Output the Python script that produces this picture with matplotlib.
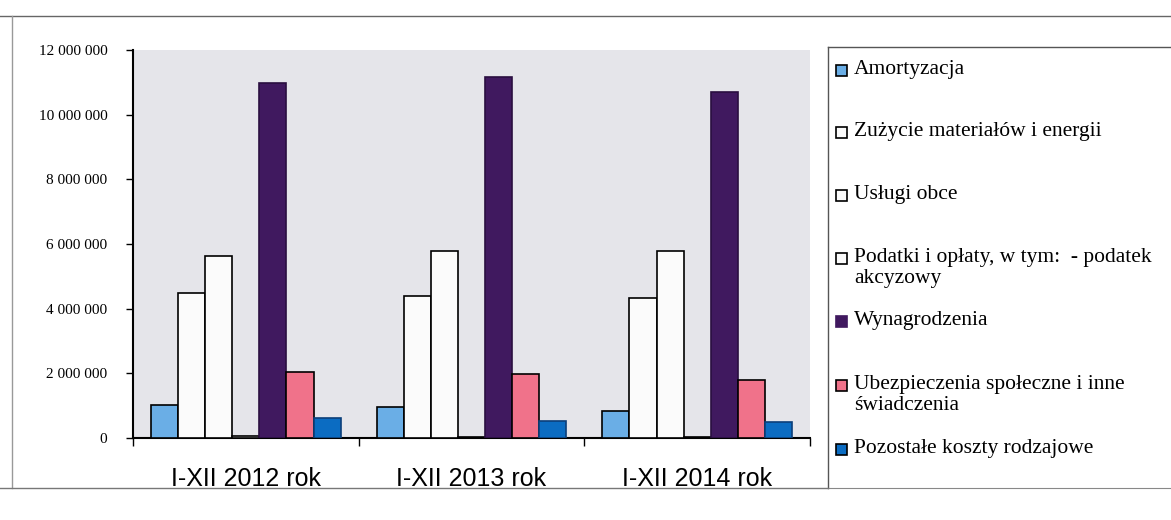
import matplotlib
matplotlib.use("Agg")
import matplotlib.pyplot as plt
from matplotlib.patches import Rectangle
from matplotlib.lines import Line2D
from matplotlib.ticker import FuncFormatter
import numpy as np

categories = ["I-XII 2012 rok", "I-XII 2013 rok", "I-XII 2014 rok"]
series_names = [
    "Amortyzacja",
    "Zużycie materiałów i energii",
    "Usługi obce",
    "Podatki i opłaty, w tym:  - podatek\nakcyzowy",
    "Wynagrodzenia",
    "Ubezpieczenia społeczne i inne\nświadczenia",
    "Pozostałe koszty rodzajowe",
]
amortyzacja = [1030000, 960000, 840000]
zuzycie = [4470000, 4400000, 4340000]
uslugi = [5640000, 5780000, 5770000]
podatki = [50000, 30000, 25000]
wynagrodzenia = [10980000, 11160000, 10700000]
ubezpieczenia = [2050000, 1980000, 1800000]
pozostale = [620000, 520000, 510000]
series_values = [amortyzacja, zuzycie, uslugi, podatki, wynagrodzenia, ubezpieczenia, pozostale]
y_ticks = [0, 2000000, 4000000, 6000000, 8000000, 10000000, 12000000]

colors = ["#6aaee6", "#fbfbfb", "#fbfbfb", "#fbfbfb", "#40195f", "#f0728a", "#0b6cc2"]
edges = ["#000000"] * 7
edges[4] = "#2a0f40"
edges[6] = "#0b3f7a"

fig = plt.figure(figsize=(11.71, 5.20), dpi=100)
fig.patch.set_facecolor("white")
ax = fig.add_axes([133/1171, 1-438/520, (810-133)/1171, (438-50)/520])
ax.set_facecolor("#e5e5ea")

x = np.arange(len(categories))
w = 0.12
n = len(series_values)
for i, (vals, c, ec) in enumerate(zip(series_values, colors, edges)):
    ax.bar(x + (i - (n-1)/2) * w, vals, width=w, color=c, edgecolor=ec, linewidth=1.2, zorder=3)

ax.set_xlim(-0.5, 2.5)
ax.set_ylim(0, 12000000)
ax.set_yticks(y_ticks)
ax.yaxis.set_major_formatter(FuncFormatter(lambda v, p: f"{int(v):,}".replace(",", " ")))
for lab in ax.get_yticklabels():
    lab.set_family("Liberation Serif")
    lab.set_fontsize(11)
ax.tick_params(axis="y", direction="out", length=5, width=1, pad=13.5)
ax.set_xticks(x)
ax.set_xticklabels(categories, family="Liberation Sans", fontsize=18)
ax.tick_params(axis="x", length=0, pad=21)
ax.set_xticks([-0.5, 0.5, 1.5, 2.5], minor=True)
ax.tick_params(axis="x", which="minor", direction="out", length=6, width=1)
for s in ["top", "right"]:
    ax.spines[s].set_visible(False)
ax.spines["left"].set_linewidth(1.5)
ax.spines["bottom"].set_linewidth(1.5)

# legend box (manual)
W, H = 1171, 520
fig.add_artist(Line2D([828/W, 828/W], [1-47/H, 1-488/H], color="#555555", lw=1))
fig.add_artist(Line2D([828/W, 1.0], [1-47/H, 1-47/H], color="#555555", lw=1))
fig.add_artist(Line2D([828/W, 1.0], [1-488/H, 1-488/H], color="#888888", lw=0.8))
ys = [70, 132, 195, 258, 321, 385, 449]
for name, c, ec, yy in zip(series_names, colors, edges, ys):
    fig.add_artist(Rectangle((836/W, 1-(yy+6)/H), 11/W, 11/H, facecolor=c,
                             edgecolor="#000000" if c != "#40195f" else c, lw=1.2,
                             transform=fig.transFigure))
    fig.text(854/W, 1-(yy-10)/H, name, family="Liberation Serif", fontsize=15.5,
             va="top", ha="left", linespacing=1.15)

# outer scanned frame
fig.add_artist(Line2D([0, 1.0], [1-16/H, 1-16/H], color="#666666", lw=1))
fig.add_artist(Line2D([12/W, 12/W], [1-16/H, 1-488/H], color="#999999", lw=1))
fig.add_artist(Line2D([0, 828/W], [1-488/H, 1-488/H], color="#777777", lw=1))

fig.savefig("out.png", dpi=100)
